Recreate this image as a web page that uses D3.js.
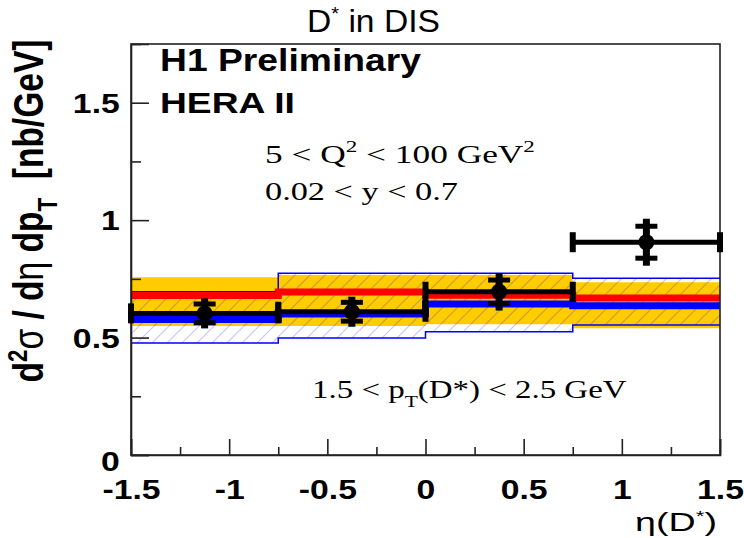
<!DOCTYPE html>
<html>
<head>
<meta charset="utf-8">
<script src="https://cdn.jsdelivr.net/npm/d3@7"></script>
<style>
  body { margin: 0; background: #fff; }
  svg { display: block; }
</style>
</head>
<body>
<div id="chart"></div>
<script>
// bins in eta(D*)
var etaEdges = [-1.5, -0.75, 0, 0.75, 1.5];
var etaCentres = [-1.125, -0.375, 0.375, 1.125];

// H1 data points
var dataXs = [0.603, 0.610, 0.695, 0.906];
var dataStat = [0.040, 0.040, 0.050, 0.068];
var dataTot = [0.064, 0.064, 0.080, 0.100];

// red prediction + yellow band
var redXs = [0.679, 0.694, 0.680, 0.668];
var yellowLo = [0.549, 0.549, 0.557, 0.540];
var yellowHi = [0.757, 0.766, 0.766, 0.736];

// blue prediction + hatched band
var blueXs = [0.577, 0.600, 0.643, 0.636];
var blueLo = [0.477, 0.498, 0.525, 0.553];
var blueHi = [0.695, 0.774, 0.774, 0.753];

var xMajor = [-1.5, -1, -0.5, 0, 0.5, 1, 1.5];
var xMinor = [-1.25, -0.75, -0.25, 0.25, 0.75, 1.25];
var yMajor = [0, 0.5, 1, 1.5];
var yMinor = [0.25, 0.75, 1.25, 1.75];

var w = 744, h = 538;
var sans = "'Liberation Sans', Arial, Helvetica, sans-serif";
var serif = "'Liberation Serif', 'Times New Roman', serif";
var stretch = 1.25;

var svg = d3.select('#chart').append('svg')
  .attr('width', w)
  .attr('height', h);

var x = d3.scaleLinear().domain([-1.5, 1.5]).range([131, 720]);
var y = d3.scaleLinear().domain([0, 1.75]).range([455, 44]);

// hatch for the blue band
var defs = svg.append('defs');
defs.append('pattern')
  .attr('id', 'hatch')
  .attr('patternUnits', 'userSpaceOnUse')
  .attr('width', 15)
  .attr('height', 15)
  .append('path')
  .attr('d', 'M-2,2 L2,-2 M0,15 L15,0 M13,17 L17,13')
  .attr('stroke', '#0000ff')
  .attr('stroke-opacity', 0.22)
  .attr('stroke-width', 1.2);

// step points from per-bin values
var steps = function(vals) {
  var pts = [];
  vals.forEach(function(v, i) {
    pts.push([etaEdges[i], v]);
    pts.push([etaEdges[i + 1], v]);
  });
  return pts;
};
var bandSteps = function(lo, hi) {
  var pts = [];
  lo.forEach(function(v, i) {
    pts.push({ x: etaEdges[i], lo: lo[i], hi: hi[i] });
    pts.push({ x: etaEdges[i + 1], lo: lo[i], hi: hi[i] });
  });
  return pts;
};

var line = d3.line()
  .x(function(d) { return x(d[0]); })
  .y(function(d) { return y(d[1]); });
var area = d3.area()
  .x(function(d) { return x(d.x); })
  .y0(function(d) { return y(d.lo); })
  .y1(function(d) { return y(d.hi); });

// yellow band
svg.append('path')
  .attr('d', area(bandSteps(yellowLo, yellowHi)))
  .attr('fill', '#ffcc00');

// blue hatched band
svg.append('path')
  .attr('d', area(bandSteps(blueLo, blueHi)))
  .attr('fill', 'url(#hatch)');
[blueLo, blueHi].forEach(function(vals) {
  svg.append('path')
    .attr('d', line(steps(vals)))
    .attr('fill', 'none')
    .attr('stroke', '#0000ff')
    .attr('stroke-width', 1.5);
});

// central lines
svg.append('path')
  .attr('d', line(steps(redXs)))
  .attr('fill', 'none')
  .attr('stroke', '#ff0000')
  .attr('stroke-width', 7);
svg.append('path')
  .attr('d', line(steps(blueXs)))
  .attr('fill', 'none')
  .attr('stroke', '#0000ff')
  .attr('stroke-width', 7);

// axes
var fmt = function(d) { return String(d); };
var xAxis = svg.append('g')
  .attr('transform', 'translate(0,' + y(0) + ')')
  .call(d3.axisBottom(x).tickValues(xMajor).tickSize(-16).tickPadding(25).tickFormat(fmt));
svg.append('g')
  .attr('transform', 'translate(0,' + y(0) + ')')
  .call(d3.axisBottom(x).tickValues(xMinor).tickSize(-8).tickFormat(''))
  .call(function(g) { g.select('.domain').remove(); });

var yAxis = svg.append('g')
  .attr('transform', 'translate(' + x(-1.5) + ',0)')
  .call(d3.axisLeft(y).tickValues(yMajor).tickSize(-18).tickPadding(9).tickFormat(fmt));
svg.append('g')
  .attr('transform', 'translate(' + x(-1.5) + ',0)')
  .call(d3.axisLeft(y).tickValues(yMinor).tickSize(-10).tickFormat(''))
  .call(function(g) { g.select('.domain').remove(); });

svg.selectAll('.tick line').attr('stroke', '#222').attr('stroke-width', 1.6);
svg.selectAll('.domain').attr('stroke', '#222').attr('stroke-width', 1.6);

xAxis.selectAll('text')
  .attr('font-family', sans).attr('font-size', 27).attr('font-weight', 'bold')
  .attr('fill', '#000').attr('dy', '0.72em')
  .attr('transform', 'scale(' + stretch + ',1)');
yAxis.selectAll('text')
  .attr('font-family', sans).attr('font-size', 27).attr('font-weight', 'bold')
  .attr('fill', '#000').attr('dy', '0.36em')
  .attr('transform', function(d) {
    return 'translate(0,' + (d === 0 ? 6 : 0) + ') scale(' + stretch + ',1)';
  });

// frame
svg.append('rect')
  .attr('x', x(-1.5)).attr('y', y(1.75))
  .attr('width', x(1.5) - x(-1.5)).attr('height', y(0) - y(1.75))
  .attr('fill', 'none').attr('stroke', '#222').attr('stroke-width', 1.6);

// data points
var pts = svg.append('g');
dataXs.forEach(function(v, i) {
  var cx = x(etaCentres[i]), cy = y(v);
  pts.append('line')
    .attr('x1', x(etaEdges[i])).attr('x2', x(etaEdges[i + 1]))
    .attr('y1', cy).attr('y2', cy)
    .attr('stroke', '#000').attr('stroke-width', 5);
  [etaEdges[i], etaEdges[i + 1]].forEach(function(e) {
    pts.append('line')
      .attr('x1', x(e)).attr('x2', x(e))
      .attr('y1', cy - 10).attr('y2', cy + 10)
      .attr('stroke', '#000').attr('stroke-width', 6);
  });
  pts.append('line')
    .attr('x1', cx).attr('x2', cx)
    .attr('y1', y(v + dataTot[i])).attr('y2', y(v - dataTot[i]))
    .attr('stroke', '#000').attr('stroke-width', 7);
  [v + dataStat[i], v - dataStat[i]].forEach(function(s) {
    pts.append('line')
      .attr('x1', cx - 11).attr('x2', cx + 11)
      .attr('y1', y(s)).attr('y2', y(s))
      .attr('stroke', '#000').attr('stroke-width', 5);
  });
  pts.append('circle')
    .attr('cx', cx).attr('cy', cy).attr('r', 8)
    .attr('fill', '#000');
});

// texts, stretched to the widths of the picture
var fitText = function(tx, ty, width, anchor, font, size, weight, parts, rotate) {
  var g = svg.append('g');
  var t = g.append('text')
    .attr('text-anchor', anchor)
    .attr('font-family', font)
    .attr('font-size', size)
    .attr('font-weight', weight)
    .attr('fill', '#000');
  parts.forEach(function(p) {
    var s = t.append('tspan').text(p.t);
    if (p.dy) s.attr('dy', p.dy);
    if (p.size) s.attr('font-size', p.size);
    if (p.weight) s.attr('font-weight', p.weight);
  });
  var len = t.node().getBBox().width;
  var k = width / len;
  if (rotate) {
    g.attr('transform', 'translate(' + tx + ',' + ty + ') scale(' + (k * stretch) + ',' + k + ') rotate(-90)');
  } else {
    g.attr('transform', 'translate(' + tx + ',' + ty + ') scale(' + k + ',1)');
  }
};

fitText(307, 32, 133, 'start', sans, 32, 'normal',
  [{ t: 'D' }, { t: '*', dy: -12, size: 19 }, { t: ' in DIS', dy: 12 }]);

fitText(160, 71, 262, 'start', sans, 31, 'bold', [{ t: 'H1 Preliminary' }]);
fitText(160, 113, 135, 'start', sans, 30, 'bold', [{ t: 'HERA II' }]);

fitText(265, 163, 270, 'start', serif, 26, 'normal',
  [{ t: '5 < Q' }, { t: '2', dy: -11, size: 17 }, { t: ' < 100 GeV', dy: 11 }, { t: '2', dy: -11, size: 17 }]);
fitText(265, 200, 193, 'start', serif, 26, 'normal', [{ t: '0.02 < y < 0.7' }]);
fitText(312, 398, 315, 'start', serif, 26, 'normal',
  [{ t: '1.5 < p' }, { t: 'T', dy: 9, size: 17 }, { t: '(D*) < 2.5 GeV', dy: -9 }]);

fitText(717, 531, 82, 'end', sans, 25, 'normal',
  [{ t: 'η(D' }, { t: '*', dy: -10, size: 15 }, { t: ')', dy: 10 }]);

fitText(43, 211, 343, 'middle', sans, 24, 'bold',
  [{ t: 'd' }, { t: '2', dy: -9, size: 16 }, { t: 'σ', dy: 9, weight: 'normal' },
   { t: ' / d' }, { t: 'η', weight: 'normal' }, { t: ' dp' },
   { t: 'T', dy: 8, size: 16 }, { t: '\u00a0\u00a0[nb/GeV]', dy: -8 }], true);
</script>
</body>
</html>
